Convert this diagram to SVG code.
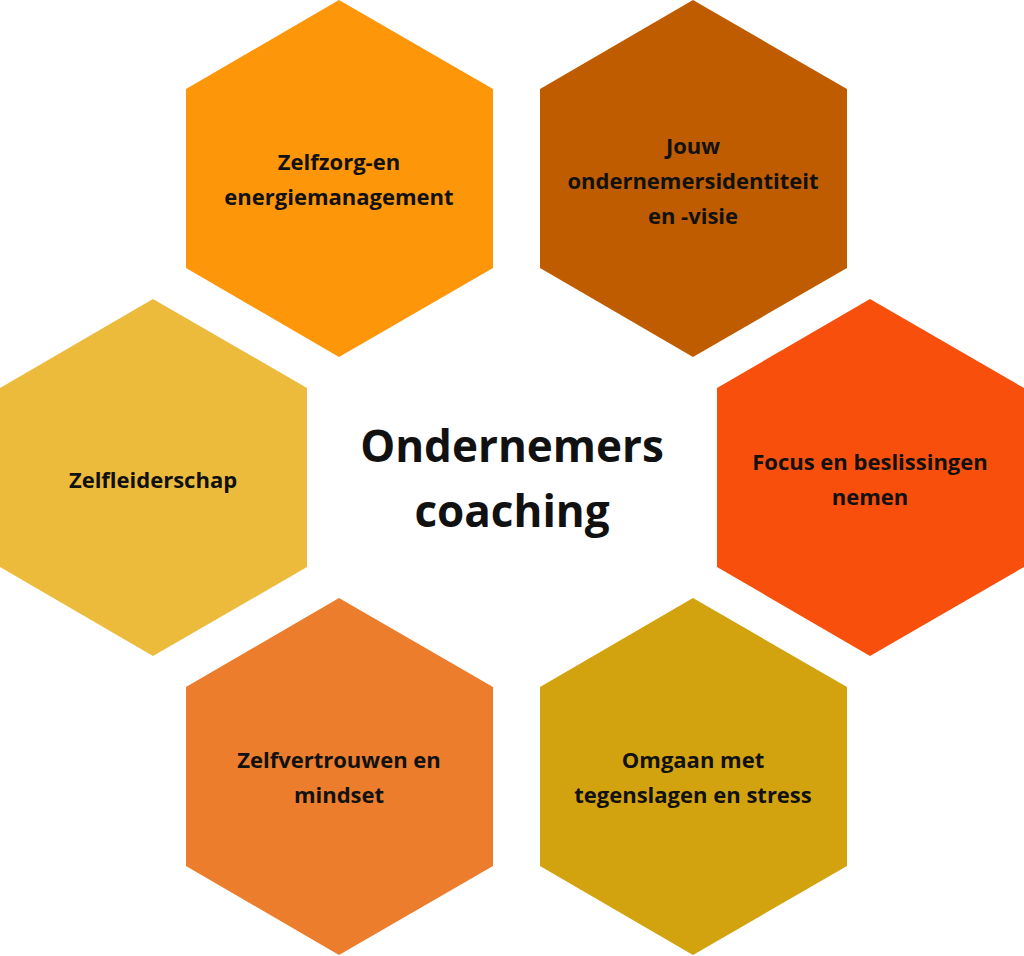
<svg xmlns="http://www.w3.org/2000/svg" width="1024" height="956" viewBox="0 0 1024 956">
<style>
text{font-family:"Open Sans","Liberation Sans",sans-serif;font-weight:bold;fill:#111;text-anchor:middle}
.l{font-size:22px}
.c{font-size:44px}
</style>
<rect width="1024" height="956" fill="#fff"/>
<g id="n1"><polygon points="339,0 493,89 493,268 339,357 186,268 186,89" fill="#FD9608"/>
<text class="l" x="339" y="170">Zelfzorg-en</text><text class="l" x="339" y="205">energiemanagement</text></g>
<g id="n2"><polygon points="693,0 847,89 847,268 693,357 540,268 540,89" fill="#C05C00"/>
<text class="l" x="693" y="154">Jouw</text><text class="l" x="693" y="189">ondernemersidentiteit</text><text class="l" x="693" y="224">en -visie</text></g>
<g id="n3"><polygon points="153,299 307,388 307,567 153,656 0,567 0,388" fill="#EDBB3C"/>
<text class="l" x="153" y="488">Zelfleiderschap</text></g>
<g id="n4"><polygon points="870,299 1024,388 1024,567 870,656 717,567 717,388" fill="#F8500C"/>
<text class="l" x="870" y="470">Focus en beslissingen</text><text class="l" x="870" y="505">nemen</text></g>
<g id="n5"><polygon points="339,598 493,687 493,866 339,955 186,866 186,687" fill="#EC7D2C"/>
<text class="l" x="339" y="768">Zelfvertrouwen en</text><text class="l" x="339" y="803">mindset</text></g>
<g id="n6"><polygon points="693,598 847,687 847,866 693,955 540,866 540,687" fill="#D2A30E"/>
<text class="l" x="693" y="768">Omgaan met</text><text class="l" x="693" y="803">tegenslagen en stress</text></g>
<g id="center"><text class="c" x="512" y="462">Ondernemers</text><text class="c" x="512" y="527">coaching</text></g>
<g id="connectors"/>
</svg>
